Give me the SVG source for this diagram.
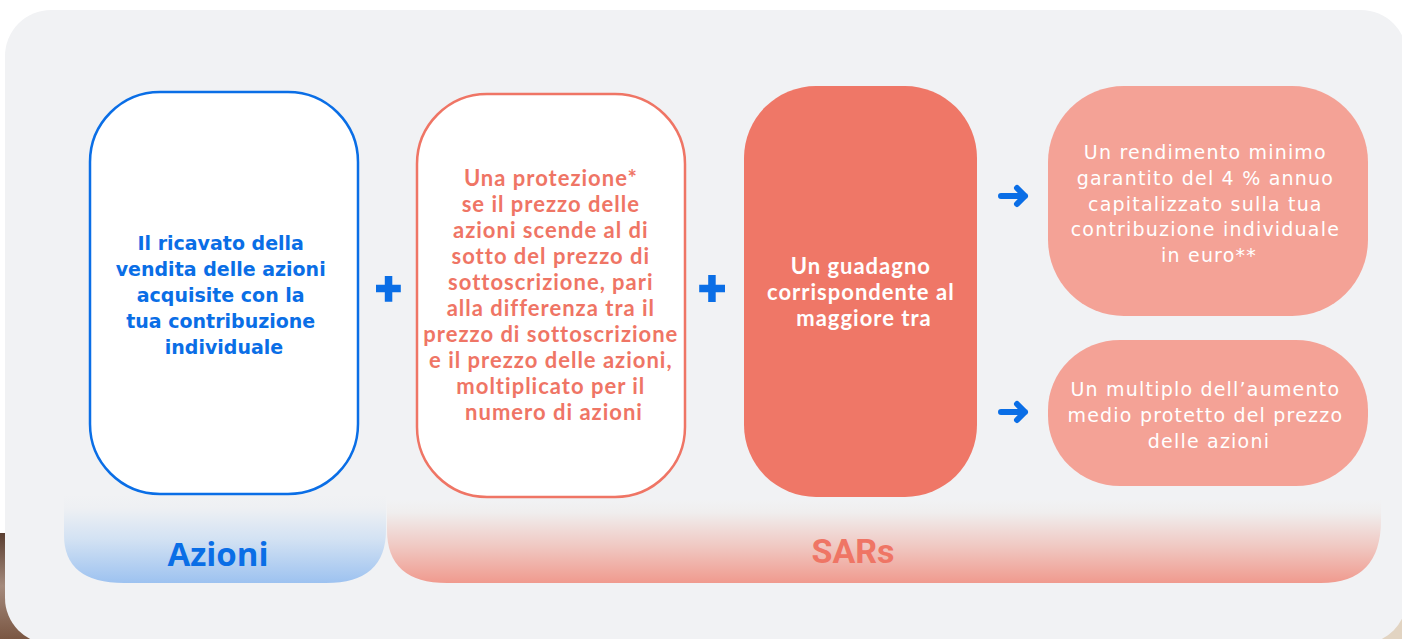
<svg xmlns="http://www.w3.org/2000/svg" width="1402" height="639" viewBox="0 0 1402 639">
  <defs>
    <linearGradient id="gBrown" x1="0" y1="0" x2="0" y2="1">
      <stop offset="0" stop-color="#5a3e30"/>
      <stop offset="0.5" stop-color="#a48a7c"/>
      <stop offset="1" stop-color="#7a5642"/>
    </linearGradient>
    <linearGradient id="gBlue" x1="0" y1="495" x2="0" y2="583" gradientUnits="userSpaceOnUse">
      <stop offset="0" stop-color="#f1f2f4"/>
      <stop offset="0.15" stop-color="#eef0f3"/>
      <stop offset="0.5" stop-color="#d3e2f3"/>
      <stop offset="1" stop-color="#9dc2f0"/>
    </linearGradient>
    <linearGradient id="gRed" x1="0" y1="500" x2="0" y2="583" gradientUnits="userSpaceOnUse">
      <stop offset="0" stop-color="#f1f2f4"/>
      <stop offset="0.15" stop-color="#f0eeee"/>
      <stop offset="0.55" stop-color="#f0c9c3"/>
      <stop offset="1" stop-color="#f09a8e"/>
    </linearGradient>
  </defs>
  <style>
    .blueTxt { font-family: "DejaVu Sans", sans-serif; font-weight: bold; font-size: 19px; fill: #0a6ee6; text-anchor: middle; }
    .redTxt { font-family: Lato, "Liberation Sans", sans-serif; font-weight: bold; font-size: 22px; fill: #ef7565; text-anchor: middle; letter-spacing: 1px; }
    .whiteBold { font-family: Lato, "Liberation Sans", sans-serif; font-weight: bold; font-size: 22px; fill: #ffffff; text-anchor: middle; letter-spacing: 1px; }
    .whiteReg { font-family: "DejaVu Sans", sans-serif; font-size: 19px; fill: #ffffff; text-anchor: middle; letter-spacing: 1.2px; }
    .plus { fill: #0a6ee6; }
    .arrow { fill: none; stroke: #0a6ee6; stroke-width: 6; stroke-linecap: round; stroke-linejoin: round; }
  </style>

  <!-- page background -->
  <rect x="0" y="0" width="1402" height="639" fill="#ffffff"/>
  <rect x="0" y="533" width="40" height="106" fill="url(#gBrown)"/>
  <rect x="1370" y="600" width="32" height="39" fill="#e2d4c2"/>
  <rect x="5" y="10" width="1402" height="634" rx="46" ry="46" fill="#f1f2f4"/>

  <!-- bands -->
  <g id="band-azioni">
    <path d="M64,495 L386,495 L386,530 Q386,583 326,583 L124,583 Q64,583 64,535 Z" fill="url(#gBlue)"/>
    <text x="218" y="566" font-family="'Open Sans', 'Noto Sans', sans-serif" font-weight="bold" font-size="33" fill="#0a6ee6" text-anchor="middle">Azioni</text>
  </g>
  <g id="band-sars">
    <path d="M387,500 L1381,500 L1381,520 Q1381,583 1321,583 L447,583 Q387,583 387,530 Z" fill="url(#gRed)"/>
    <text x="853" y="563" font-family="Roboto, 'Liberation Sans', sans-serif" font-weight="bold" font-size="34" fill="#ef7565" text-anchor="middle">SARs</text>
  </g>

  <!-- nodes -->
  <g id="node-ricavato">
    <rect x="90" y="92" width="268" height="402" rx="70" ry="70" fill="#ffffff" stroke="#0a6ee6" stroke-width="2.5"/>
    <text class="blueTxt">
      <tspan x="224" y="250">Il ricavato della</tspan>
      <tspan x="224" y="276">vendita delle azioni</tspan>
      <tspan x="224" y="302">acquisite con la</tspan>
      <tspan x="224" y="328">tua contribuzione</tspan>
      <tspan x="224" y="354">individuale</tspan>
    </text>
  </g>
  <g id="node-protezione">
    <rect x="417" y="94" width="268" height="403" rx="70" ry="70" fill="#ffffff" stroke="#ef7565" stroke-width="2.5"/>
    <text class="redTxt">
      <tspan x="554" y="186">Una protezione*</tspan>
      <tspan x="554" y="212">se il prezzo delle</tspan>
      <tspan x="554" y="238">azioni scende al di</tspan>
      <tspan x="554" y="264">sotto del prezzo di</tspan>
      <tspan x="554" y="290">sottoscrizione, pari</tspan>
      <tspan x="554" y="316">alla differenza tra il</tspan>
      <tspan x="554" y="342">prezzo di sottoscrizione</tspan>
      <tspan x="554" y="368">e il prezzo delle azioni,</tspan>
      <tspan x="554" y="394">moltiplicato per il</tspan>
      <tspan x="554" y="420">numero di azioni</tspan>
    </text>
  </g>
  <g id="node-guadagno">
    <rect x="744" y="86" width="233" height="411" rx="72" ry="72" fill="#ef7767"/>
    <text class="whiteBold">
      <tspan x="864" y="274">Un guadagno</tspan>
      <tspan x="864" y="300">corrispondente al</tspan>
      <tspan x="864" y="326">maggiore tra</tspan>
    </text>
  </g>
  <g id="node-rendimento">
    <rect x="1048" y="86" width="320" height="230" rx="76" ry="76" fill="#f4a296"/>
    <text class="whiteReg">
      <tspan x="1209" y="159">Un rendimento minimo</tspan>
      <tspan x="1209" y="185">garantito del 4 % annuo</tspan>
      <tspan x="1209" y="211">capitalizzato sulla tua</tspan>
      <tspan x="1209" y="236">contribuzione individuale</tspan>
      <tspan x="1209" y="262">in euro**</tspan>
    </text>
  </g>
  <g id="node-multiplo">
    <rect x="1048" y="340" width="320" height="146" rx="72" ry="70" fill="#f4a296"/>
    <text class="whiteReg">
      <tspan x="1209" y="396">Un multiplo dell’aumento</tspan>
      <tspan x="1209" y="422">medio protetto del prezzo</tspan>
      <tspan x="1209" y="448">delle azioni</tspan>
    </text>
  </g>

  <!-- connectors / operators -->
  <g id="connectors">
    <path class="plus" d="M384.8,276 h7.5 v8.8 h8.5 v7.5 h-8.5 v9.4 h-7.5 v-9.4 h-8.8 v-7.5 h8.8 Z"/>
    <path class="plus" d="M708.2,275 h7.5 v9.8 h9.3 v7.5 h-9.3 v9.7 h-7.5 v-9.7 h-9 v-7.5 h9 Z"/>
    <path class="arrow" d="M1001,196 H1025 M1017,188 L1025,196 L1017,204"/>
    <path class="arrow" d="M1001,412 H1025 M1017,404 L1025,412 L1017,420"/>
  </g>
</svg>
